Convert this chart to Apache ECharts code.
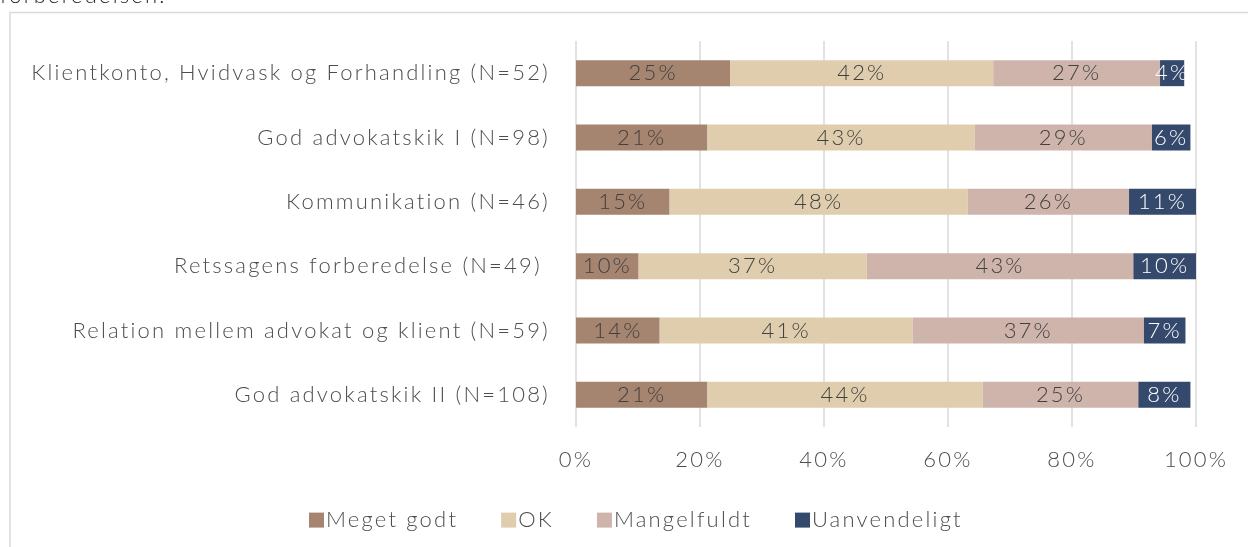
<!DOCTYPE html>
<html>
<head>
<meta charset="utf-8">
<style>
html,body{margin:0;padding:0;background:#fff;}
#chart{width:1248px;height:547px;}
</style>
<script src="https://cdn.jsdelivr.net/npm/echarts@6/dist/echarts.min.js"></script>
</head>
<body>
<div id="chart"></div>
<script>
const categories = [
  'Klientkonto, Hvidvask og Forhandling (N=52)',
  'God advokatskik I (N=98)',
  'Kommunikation (N=46)',
  'Retssagens forberedelse (N=49) ',
  'Relation mellem advokat og klient (N=59)',
  'God advokatskik II (N=108)'
];
const seriesNames = ['Meget godt', 'OK', 'Mangelfuldt', 'Uanvendeligt'];
const megetGodt   = [24.9, 21.2, 15.1, 10.1, 13.5, 21.2];
const ok          = [42.4, 43.1, 48.1, 36.8, 40.8, 44.4];
const mangelfuldt = [26.9, 28.6, 26.0, 43.0, 37.3, 25.1];
const uanvendeligt= [3.9, 6.2, 10.8, 10.1, 6.7, 8.4];
const xTicks = [0, 20, 40, 60, 80, 100];

// wider letter spacing to approximate the wide geometric typeface of the original
(function () {
  const LS = '2.2px';
  const P = CanvasRenderingContext2D.prototype;
  ['fillText', 'strokeText', 'measureText'].forEach(fn => {
    const orig = P[fn];
    P[fn] = function () { this.letterSpacing = LS; return orig.apply(this, arguments); };
  });
})();

const colors = ['#A58470', '#DFCDAE', '#CFB4AC', '#34496B'];
const labelColors = ['#404040', '#404040', '#404040', '#ffffff'];
const FONT = 'Lato';
const FW = 300;
const FS = 22;
const TXT = '#4d4d4d';
const dataSets = [megetGodt, ok, mangelfuldt, uanvendeligt];

const chart = echarts.init(document.getElementById('chart'), null, {renderer: 'canvas'});
chart.setOption({
  animation: false,
  backgroundColor: '#ffffff',
  textStyle: {fontFamily: FONT, fontWeight: FW},
  graphic: [
    {type: 'rect', shape: {x: 10, y: 12.5, width: 1300, height: 600}, style: {fill: 'none', stroke: '#D9D9D9', lineWidth: 1.5}, silent: true},
    {type: 'text', left: 0, top: -16, style: {text: 'forberedelsen.', font: FW + ' ' + FS + 'px "' + FONT + '"', fill: '#262626'}, silent: true}
  ],
  grid: {left: 576, right: 52, top: 41, bottom: 120, containLabel: false},
  legend: {
    data: seriesNames,
    left: 309, top: 508, padding: 0,
    itemWidth: 15, itemHeight: 15, itemGap: 43,
    icon: 'rect',
    textStyle: {fontSize: FS, color: TXT, fontFamily: FONT, fontWeight: FW, padding: [0, 0, 0, -3]}
  },
  xAxis: {
    type: 'value', min: 0, max: 100, interval: 20,
    axisLine: {show: false}, axisTick: {show: false},
    splitLine: {lineStyle: {color: '#D9D9D9', width: 1.5}},
    axisLabel: {formatter: v => xTicks.includes(v) ? v + '%' : '', fontSize: FS, color: TXT, margin: 21, fontFamily: FONT, fontWeight: FW}
  },
  yAxis: {
    type: 'category', data: categories, inverse: true,
    axisLine: {show: false}, axisTick: {show: false},
    axisLabel: {fontSize: FS, color: TXT, margin: 26, fontFamily: FONT, fontWeight: FW}
  },
  series: seriesNames.map((name, i) => ({
    name, type: 'bar', stack: 'total', barWidth: 26,
    data: dataSets[i],
    itemStyle: {color: colors[i]},
    label: {
      show: true, position: 'inside', fontSize: FS, fontFamily: FONT, fontWeight: FW,
      color: labelColors[i],
      formatter: p => Math.round(p.value) + '%'
    }
  }))
});
</script>
</body>
</html>
